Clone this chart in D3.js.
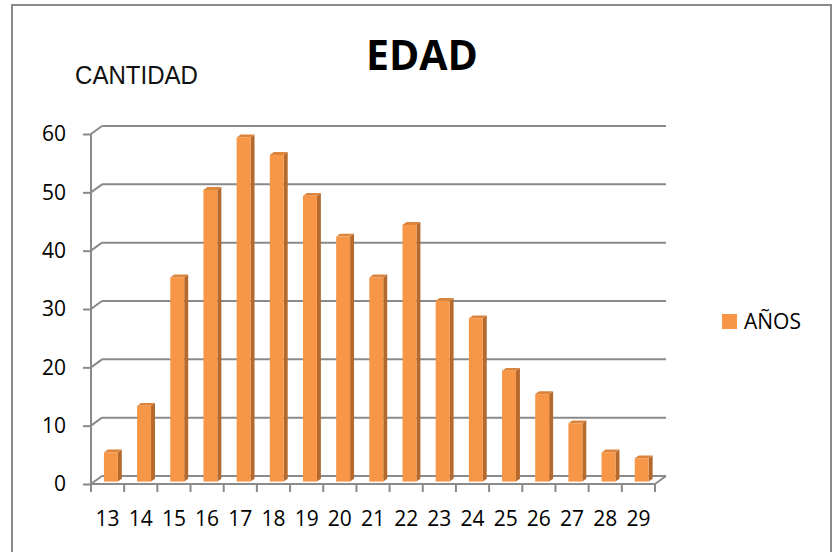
<!DOCTYPE html>
<html>
<head>
<meta charset="utf-8">
<script src="https://cdn.jsdelivr.net/npm/d3@7"></script>
<style>
  body { margin: 0; background: #fff; }
  text { font-family: "Open Sans", sans-serif; }
</style>
</head>
<body>
<svg width="833" height="552"></svg>
<script>
// datos del grafico
var edades = ["13","14","15","16","17","18","19","20","21","22","23","24","25","26","27","28","29"];
var cantidad = [5, 13, 35, 50, 59, 56, 49, 42, 35, 44, 31, 28, 19, 15, 10, 5, 4];
var yTicks = [0, 10, 20, 30, 40, 50, 60];
var titulo = "EDAD";
var tituloEje = "CANTIDAD";
var serie = "AÑOS";

var svg = d3.select("svg");

// marco del grafico
svg.append("rect")
    .attr("x", 12).attr("y", 5)
    .attr("width", 819).attr("height", 600)
    .attr("fill", "none")
    .attr("stroke", "#8a8a8a")
    .attr("stroke-width", 2);

// escalas (cara frontal del piso)
var x = d3.scaleBand().domain(edades).range([91, 655]);
var y = d3.scaleLinear().domain([0, 60]).range([484, 134]);

// profundidad 3d
var depth = {dx: 11, dy: -8};
var barFront = 0.3, barBack = 0.66;
var barW = x.bandwidth() * 0.42;
var grid = "#8a8a8a";

var g = svg.append("g");

// lineas de la pared del fondo
yTicks.forEach(function (v) {
    g.append("line")
        .attr("x1", 91 + depth.dx).attr("y1", y(v) + depth.dy)
        .attr("x2", 655 + depth.dx).attr("y2", y(v) + depth.dy)
        .attr("stroke", grid).attr("stroke-width", 2);
    g.append("line")
        .attr("x1", 91).attr("y1", y(v))
        .attr("x2", 91 + depth.dx).attr("y2", y(v) + depth.dy)
        .attr("stroke", grid).attr("stroke-width", 2);
});

// piso
g.append("line")
    .attr("x1", 655).attr("y1", y(0))
    .attr("x2", 655 + depth.dx).attr("y2", y(0) + depth.dy)
    .attr("stroke", grid).attr("stroke-width", 2);

// eje y
var yAxis = g.append("g")
    .attr("transform", "translate(91,0)")
    .call(d3.axisLeft(y).tickValues(yTicks).tickSize(8).tickPadding(16));
yAxis.selectAll("line").attr("stroke", grid).attr("stroke-width", 2);
yAxis.select(".domain").attr("stroke", grid).attr("stroke-width", 2)
    .attr("d", "M0," + y(60) + "V" + y(0));
yAxis.selectAll("text")
    .style("font-family", "Open Sans, sans-serif")
    .style("font-size", "21px").attr("fill", "#000")
    .attr("x", -25);

// eje x
g.append("line")
    .attr("x1", 91).attr("y1", y(0))
    .attr("x2", 655).attr("y2", y(0))
    .attr("stroke", grid).attr("stroke-width", 2);
g.selectAll(".xtick")
    .data(edades.concat([null]))
    .enter().append("line")
    .attr("x1", function (d, i) { return 91 + i * x.step(); })
    .attr("x2", function (d, i) { return 91 + i * x.step(); })
    .attr("y1", y(0)).attr("y2", y(0) + 8)
    .attr("stroke", grid).attr("stroke-width", 2);
g.selectAll(".xlabel")
    .data(edades)
    .enter().append("text")
    .attr("x", function (d) { return x(d) + x.bandwidth() / 2; })
    .attr("y", 526)
    .attr("text-anchor", "middle")
    .style("font-size", "21px")
    .text(function (d) { return d; });

// barras 3d
var bars = g.selectAll(".bar")
    .data(edades.map(function (d, i) { return {edad: d, v: cantidad[i]}; }))
    .enter().append("g");

function fx(d) { return x(d.edad) + (x.bandwidth() - barW) / 2 + depth.dx * barFront; }
var fdy = depth.dy * barFront;
var sdx = depth.dx * (barBack - barFront), sdy = depth.dy * (barBack - barFront);

// cara lateral
bars.append("path")
    .attr("fill", "#b5692c")
    .attr("d", function (d) {
        var x0 = fx(d) + barW, yt = y(d.v) + fdy, yb = y(0) + fdy;
        return "M" + x0 + "," + yb + "L" + x0 + "," + yt +
            "L" + (x0 + sdx) + "," + (yt + sdy) + "L" + (x0 + sdx) + "," + (yb + sdy) + "Z";
    });
// cara superior
bars.append("path")
    .attr("fill", "#dc843c")
    .attr("d", function (d) {
        var x0 = fx(d), yt = y(d.v) + fdy;
        return "M" + x0 + "," + yt + "L" + (x0 + sdx) + "," + (yt + sdy) +
            "L" + (x0 + barW + sdx) + "," + (yt + sdy) + "L" + (x0 + barW) + "," + yt + "Z";
    });
// cara frontal
bars.append("rect")
    .attr("fill", "#f79646")
    .attr("x", fx)
    .attr("y", function (d) { return y(d.v) + fdy; })
    .attr("width", barW)
    .attr("height", function (d) { return y(0) - y(d.v); });

// titulo
svg.append("text")
    .attr("x", 422).attr("y", 70)
    .attr("text-anchor", "middle")
    .style("font-size", "41px").attr("font-weight", "bold")
    .text(titulo);

// titulo eje y
svg.append("text")
    .attr("x", 75).attr("y", 84)
    .style("font-size", "25px")
    .attr("textLength", 123).attr("lengthAdjust", "spacingAndGlyphs")
    .attr("fill", "#111")
    .style("font-family", "Liberation Sans, sans-serif")
    .text(tituloEje);

// leyenda
var leg = svg.append("g").attr("transform", "translate(722,314)");
leg.append("rect").attr("width", 15).attr("height", 15).attr("fill", "#f79646");
leg.append("text").attr("x", 22).attr("y", 15).style("font-size", "21px").text(serie);
</script>
</body>
</html>
